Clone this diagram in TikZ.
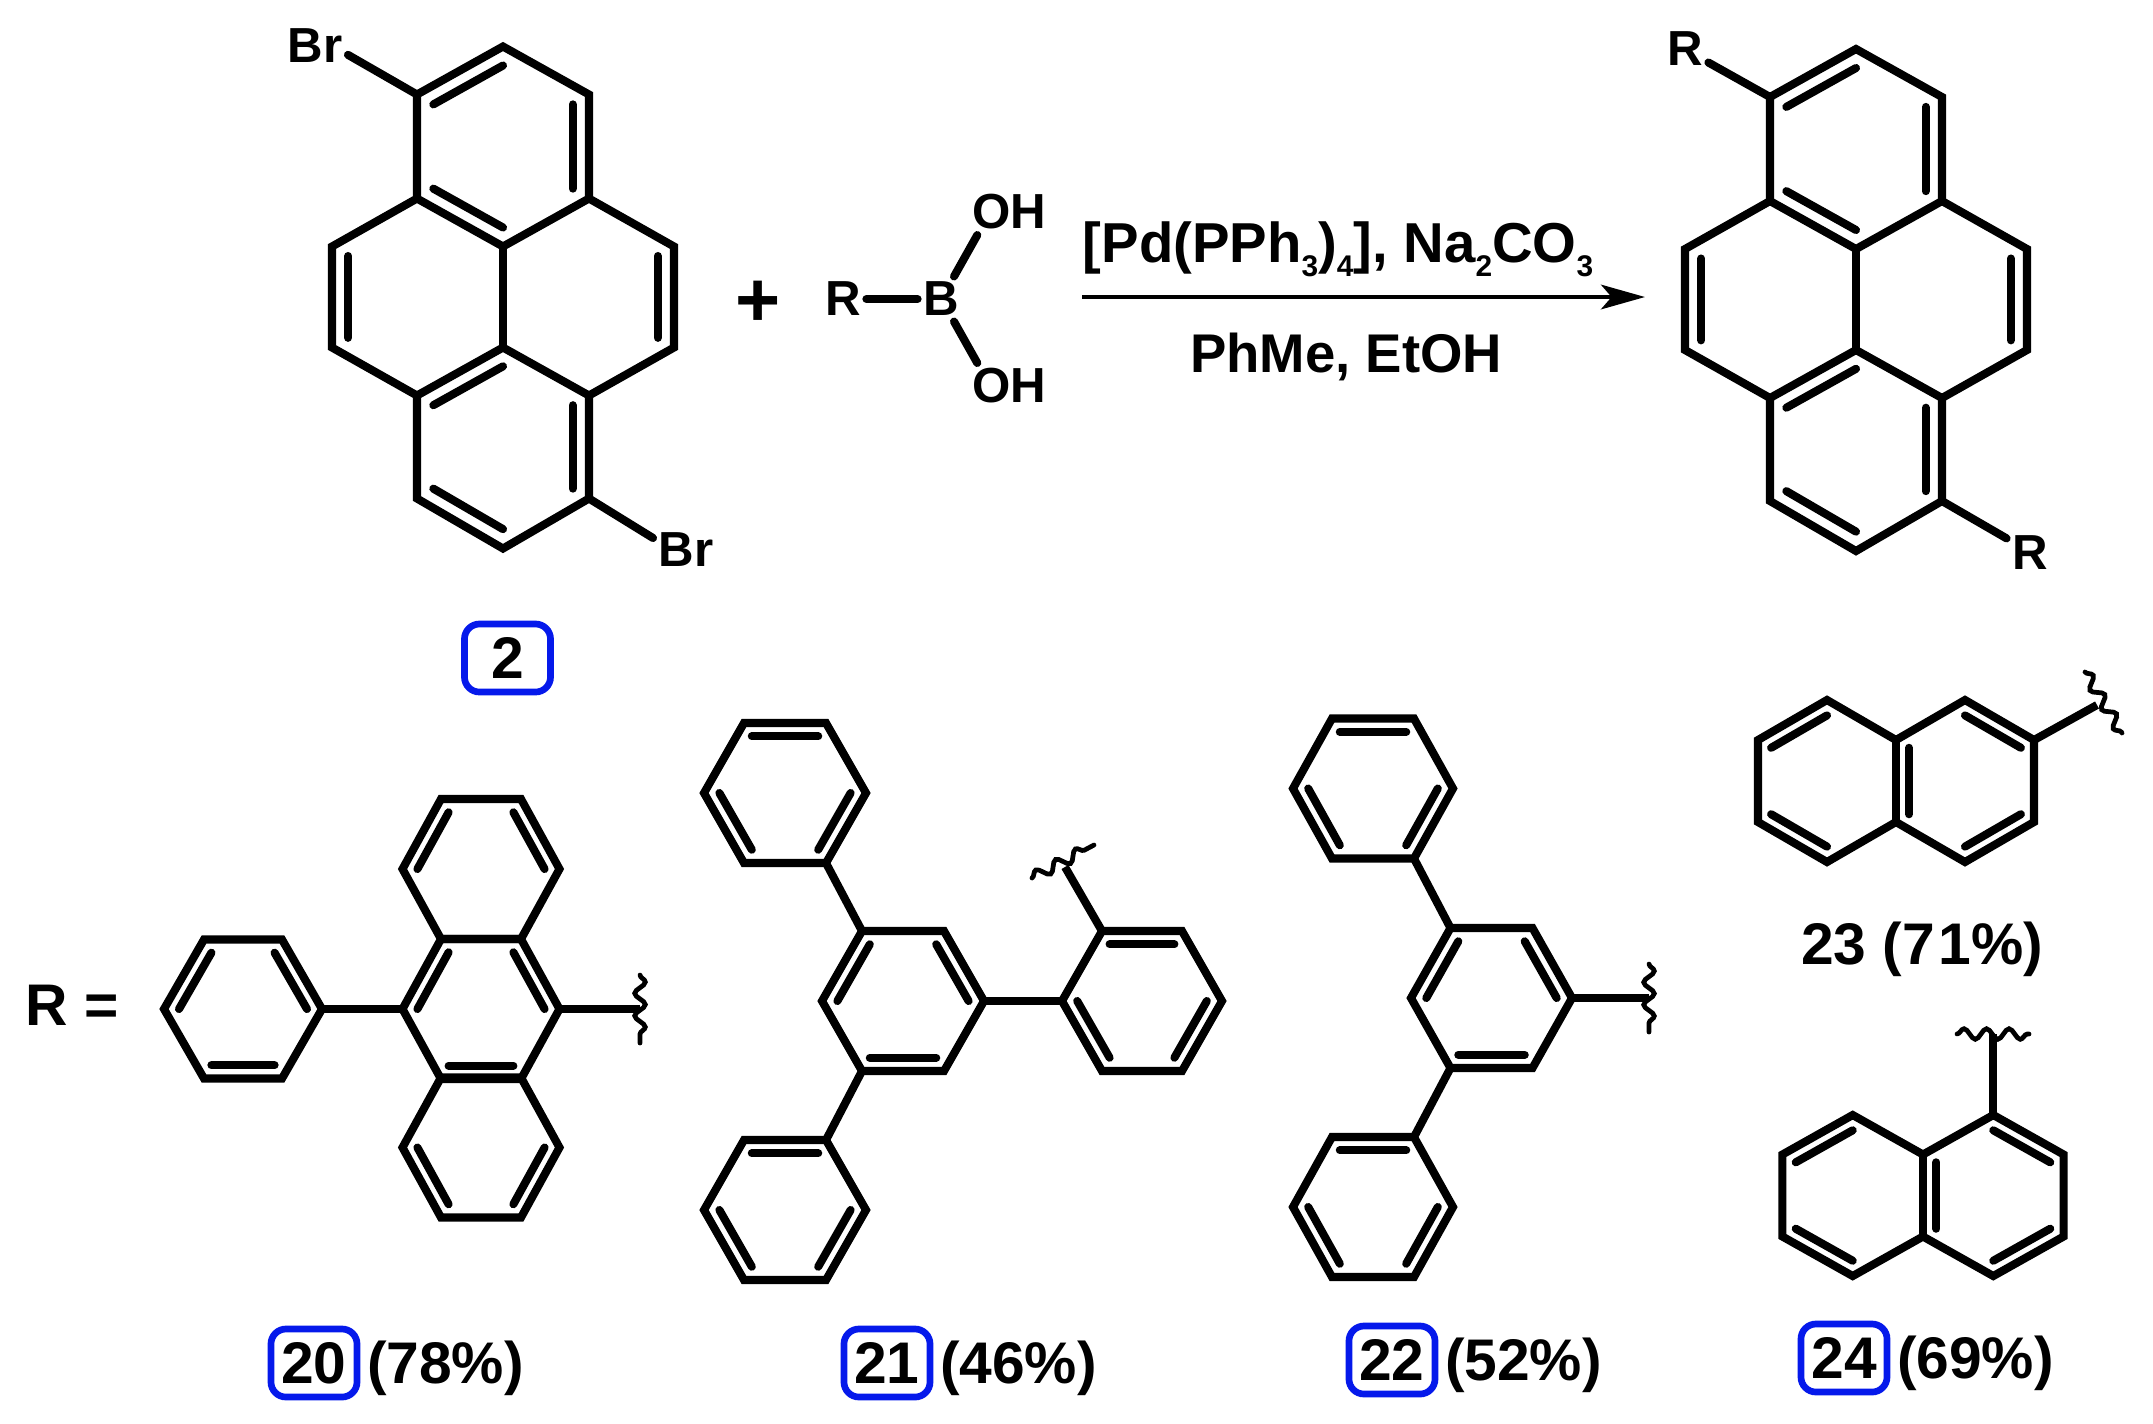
\documentclass[tikz,border=0pt]{standalone}
\usepackage{fontspec}
\setmainfont{Liberation Sans}
\usetikzlibrary{calc,positioning,arrows.meta,decorations.pathmorphing}
\definecolor{boxblue}{RGB}{5,25,235}

\newcommand{\dbl}[3]{\draw[bond,line cap=round] ($(#1)!0.19!(#3)$) -- ($(#2)!0.19!(#3)$);}
\newcommand{\subnum}[1]{\raisebox{-4pt}{\fontsize{8.5}{10}\selectfont #1}}

\newcommand{\flatring}[6]{
    \coordinate (#1) at (#2,#3);
    \coordinate (#1e) at (#2+#4,#3);
    \coordinate (#1ne) at (#2+#5,#3-#6);
    \coordinate (#1nw) at (#2-#5,#3-#6);
    \coordinate (#1w) at (#2-#4,#3);
    \coordinate (#1sw) at (#2-#5,#3+#6);
    \coordinate (#1se) at (#2+#5,#3+#6);
    \draw[bond] (#1e) -- (#1ne) -- (#1nw) -- (#1w) -- (#1sw) -- (#1se) -- cycle;
}

\newcommand{\pyrene}[3]{
    \coordinate (#1a) at (#2,#3-250);
    \coordinate (#1b) at (#2-86,#3-202);
    \coordinate (#1c) at (#2+86,#3-202);
    \coordinate (#1d) at (#2-86,#3-98);
    \coordinate (#1f) at (#2+86,#3-98);
    \coordinate (#1g) at (#2,#3-50);
    \coordinate (#1h) at (#2-171,#3-50);
    \coordinate (#1i) at (#2+171,#3-50);
    \coordinate (#1j) at (#2-171,#3+51);
    \coordinate (#1k) at (#2+171,#3+51);
    \coordinate (#1l) at (#2,#3+51);
    \coordinate (#1m) at (#2-86,#3+99);
    \coordinate (#1n) at (#2+86,#3+99);
    \coordinate (#1o) at (#2-86,#3+202);
    \coordinate (#1p) at (#2+86,#3+202);
    \coordinate (#1q) at (#2,#3+252);
    \coordinate (#1up) at (#2,#3-150);
    \coordinate (#1lf) at (#2-86,#3);
    \coordinate (#1rt) at (#2+86,#3);
    \coordinate (#1dn) at (#2,#3+150);
    \draw[bond] (#1a) -- (#1c) -- (#1f) -- (#1i) -- (#1k) -- (#1n) -- (#1p) -- (#1q) -- (#1o) -- (#1m)
        -- (#1j) -- (#1h) -- (#1d) -- (#1b) -- cycle;
    \draw[bond] (#1d) -- (#1g) -- (#1f);
    \draw[bond] (#1g) -- (#1l);
    \draw[bond] (#1m) -- (#1l) -- (#1n);
    \dbl{#1b}{#1a}{#1up}
    \dbl{#1c}{#1f}{#1up}
    \dbl{#1d}{#1g}{#1up}
    \dbl{#1h}{#1j}{#1lf}
    \dbl{#1i}{#1k}{#1rt}
    \dbl{#1m}{#1l}{#1dn}
    \dbl{#1n}{#1p}{#1dn}
    \dbl{#1o}{#1q}{#1dn}
}

\newcommand{\naphth}[6]{
    \coordinate (#1l) at (#2-#4,#3);
    \coordinate (#1r) at (#2+#4,#3);
    \coordinate (#1a) at (#2-2*#4,#3-#5);
    \coordinate (#1b) at (#2-#4,#3-#6);
    \coordinate (#1c) at (#2,#3-#5);
    \coordinate (#1d) at (#2+#4,#3-#6);
    \coordinate (#1f) at (#2+2*#4,#3-#5);
    \coordinate (#1g) at (#2+2*#4,#3+#5);
    \coordinate (#1h) at (#2+#4,#3+#6);
    \coordinate (#1i) at (#2,#3+#5);
    \coordinate (#1j) at (#2-#4,#3+#6);
    \coordinate (#1k) at (#2-2*#4,#3+#5);
    \draw[bond] (#1a) -- (#1b) -- (#1c) -- (#1d) -- (#1f) -- (#1g) -- (#1h) -- (#1i) -- (#1j) -- (#1k) -- cycle;
    \draw[bond] (#1c) -- (#1i);
    \dbl{#1a}{#1b}{#1l}
    \dbl{#1k}{#1j}{#1l}
    \dbl{#1c}{#1i}{#1r}
    \dbl{#1d}{#1f}{#1r}
    \dbl{#1g}{#1h}{#1r}
}

\begin{document}
\begin{tikzpicture}[x=0.01cm,y=-0.01cm,
    bond/.style={line width=2.3pt,line join=miter},
    wavy/.style={line width=1.35pt,line cap=round,decorate,decoration={snake,segment length=6.4pt,amplitude=1.5pt}},
    atom/.style={font=\fontsize{14}{16}\selectfont\bfseries,inner sep=1.4pt},
    reagent/.style={font=\fontsize{16}{18}\selectfont\bfseries,inner sep=0pt},
    yieldlabel/.style={font=\fontsize{16.7}{20}\selectfont\bfseries,inner sep=0pt,text height=11.8pt,text depth=0pt},
    numbox/.style={yieldlabel,draw=boxblue,line width=1.9pt,rounded corners=0.15cm,minimum width=0.86cm,minimum height=0.68cm}]
    \useasboundingbox (0,0) rectangle (2153,1423);

    \pyrene{s}{503}{296.5}
    \pyrene{p}{1856}{299}

    \node[atom] (Br1) at (315,46) {Br};
    \node[atom] (Br2) at (686,550) {Br};
    \node[atom] (R1) at (1685,49) {R};
    \node[atom] (R2) at (2030,553) {R};
    \draw[bond,line cap=round] (sb) -- (Br1.-15);
    \draw[bond,line cap=round] (sp) -- (Br2.160);
    \draw[bond,line cap=round] (pb) -- (R1.-30);
    \draw[bond,line cap=round] (pp) -- (R2.148);

    \node[numbox] (lab2) at (507.5,658) {2};

    \node[font=\fontsize{22}{24}\selectfont\bfseries,inner sep=0pt] (plus) at (758,304) {+};
    \node[atom] (RB) at (843,299) {R};
    \node[atom] (B) at (941,299) {B};
    \node[atom] (OH1) at (1009,212) {OH};
    \node[atom] (OH2) at (1009,386) {OH};
    \draw[bond,line cap=round] (RB) -- (B);
    \draw[bond,line cap=round] (B.60) -- (OH1.216);
    \draw[bond,line cap=round] (B.-60) -- (OH2.144);

    \coordinate (arrowstart) at (1082,297);
    \coordinate (arrowend) at (1645,297);
    \draw[line width=1.2pt,-{Stealth[length=12.5pt,width=7pt,inset=3pt]}] (arrowstart) -- (arrowend);
    \node[reagent,anchor=base] (cond1) at (1338,262) {[Pd(PPh\subnum{3})\subnum{4}], Na\subnum{2}CO\subnum{3}};
    \node[reagent,anchor=base,font=\fontsize{15.5}{18}\selectfont\bfseries] (cond2) at (1346,372) {PhMe, EtOH};

    \node[yieldlabel] (Req) at (72,1005) {R =};

    \flatring{aph}{243}{1009}{79}{39}{69.5}
    \flatring{amid}{481}{1009}{78.5}{40}{70}
    \flatring{atop}{481}{869}{78.5}{40}{70}
    \flatring{abot}{481}{1147.5}{78.5}{40}{70}
    \coordinate (awave) at (640,1009);
    \coordinate (awavea) at (640,975);
    \coordinate (awaveb) at (640,1043);
    \draw[bond] (aphe) -- (amidw);
    \draw[bond] (amide) -- (awave);
    \draw[wavy] (awavea) -- (awaveb);

    \flatring{bup}{785}{793}{81}{41}{70}
    \flatring{bmid}{903}{1001}{81}{41}{70}
    \flatring{bdn}{785}{1210}{81}{41}{70}
    \flatring{brt}{1142}{1001}{80}{40}{70}
    \coordinate (bwave) at (1065,867);
    \coordinate (bwavea) at (1032,878);
    \coordinate (bwaveb) at (1094,845);
    \draw[bond] (bupse) -- (bmidnw);
    \draw[bond] (bdnne) -- (bmidsw);
    \draw[bond] (bmide) -- (brtw);
    \draw[bond] (brtnw) -- (bwave);
    \draw[wavy] (bwavea) -- (bwaveb);

    \flatring{cup}{1373}{788.5}{80}{41}{70}
    \flatring{cmid}{1491.5}{998}{80.5}{41}{70}
    \flatring{cdn}{1373}{1207}{80}{41}{70}
    \coordinate (cwave) at (1649,998);
    \coordinate (cwavea) at (1649,964);
    \coordinate (cwaveb) at (1649,1032);
    \draw[bond] (cupse) -- (cmidnw);
    \draw[bond] (cdnne) -- (cmidsw);
    \draw[bond] (cmide) -- (cwave);
    \draw[wavy] (cwavea) -- (cwaveb);

    \foreach \r in {bup,bdn,brt,cup,cdn}
        \foreach \p/\q in {nw/ne,w/sw,e/se}
            {\dbl{\r\p}{\r\q}{\r}}
    \foreach \r in {aph,amid,bmid,cmid}
        \foreach \p/\q in {w/nw,ne/e,sw/se}
            {\dbl{\r\p}{\r\q}{\r}}
    \foreach \p/\q in {w/nw,ne/e}
        {\dbl{atop\p}{atop\q}{atop}}
    \foreach \p/\q in {w/sw,se/e}
        {\dbl{abot\p}{abot\q}{abot}}

    \naphth{d}{1896}{781}{69}{41}{81}
    \coordinate (dwave) at (2097,705);
    \coordinate (dwavea) at (2085,672);
    \coordinate (dwaveb) at (2122,733);
    \draw[bond] (df) -- (dwave);
    \draw[wavy] (dwavea) -- (dwaveb);
    \node[yieldlabel] (lab23) at (1922,944) {23 (7\kern1pt1\%)};

    \naphth{f}{1923}{1195.5}{70.3}{41}{80.5}
    \coordinate (fwave) at (1993.3,1034);
    \coordinate (fwavea) at (1957,1034);
    \coordinate (fwaveb) at (2029,1034);
    \draw[bond] (fd) -- (fwave);
    \draw[wavy] (fwavea) -- (fwaveb);

    \node[numbox] (lab20) at (314,1363) {20};
    \node[yieldlabel,right=0.06cm of lab20] (yld20) {(78\%)};
    \node[numbox] (lab21) at (887,1363) {21};
    \node[yieldlabel,right=0.06cm of lab21] (yld21) {(46\%)};
    \node[numbox] (lab22) at (1392,1360) {22};
    \node[yieldlabel,right=0.06cm of lab22] (yld22) {(52\%)};
    \node[numbox] (lab24) at (1844,1358) {24};
    \node[yieldlabel,right=0.06cm of lab24] (yld24) {(69\%)};
\end{tikzpicture}
\end{document}
